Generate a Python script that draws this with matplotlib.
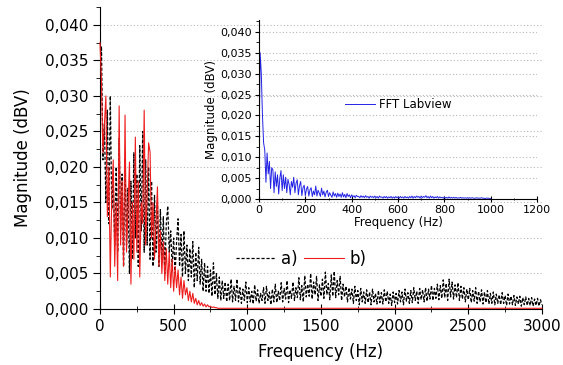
import numpy as np
import matplotlib
matplotlib.use('Agg')
import matplotlib.pyplot as plt
from matplotlib.ticker import FuncFormatter, MultipleLocator

# valeurs, en unites de 1e-4 V

# a) : pas de 10 Hz de 0 a 3000 Hz
mag_a = [330, 370, 210, 260, 150, 280, 120, 300, 140, 180, 90,
         200, 80, 240, 110, 190, 60, 210, 90, 170, 50,
         180, 70, 220, 100, 190, 60, 230, 110, 250, 80,
         210, 90, 200, 70, 180, 60, 160, 80, 150, 60,
         140, 70, 130, 50, 120, 145, 80, 110, 60, 100,
         50, 95, 127, 60, 105, 45, 110, 50, 90, 40,
         85, 45, 95, 30, 80, 40, 87, 35, 70, 25,
         65, 25, 60, 22, 55, 18, 65, 20, 50, 15,
         45, 12, 40, 15, 38, 10, 35, 12, 42, 10,
         32, 12, 42, 10, 30, 8, 28, 12, 38, 9,
         30, 10, 25, 7, 34, 11, 27, 8, 22, 12,
         30, 8, 32, 12, 24, 6, 28, 10, 35, 9,
         25, 12, 37, 10, 29, 14, 40, 9, 27, 15,
         38, 12, 30, 16, 44, 13, 33, 10, 47, 17,
         35, 18, 50, 14, 38, 20, 46, 12, 34, 18,
         42, 15, 52, 20, 36, 13, 48, 18, 53, 16,
         40, 20, 46, 12, 35, 17, 32, 10, 30, 14,
         28, 8, 32, 12, 26, 6, 29, 10, 24, 8,
         27, 9, 24, 6, 28, 10, 22, 7, 26, 9,
         23, 7, 27, 10, 25, 8, 21, 5, 24, 9,
         22, 7, 26, 10, 24, 6, 28, 11, 23, 8,
         26, 9, 30, 12, 25, 8, 29, 13, 27, 10,
         30, 11, 28, 14, 33, 12, 29, 15, 35, 13,
         33, 15, 41, 16, 36, 12, 42, 17, 38, 14,
         34, 16, 37, 12, 32, 14, 30, 10, 28, 13,
         29, 9, 26, 11, 30, 8, 25, 10, 27, 7,
         24, 9, 26, 7, 22, 8, 24, 6, 21, 8,
         20, 6, 23, 8, 19, 5, 21, 7, 18, 6,
         19, 5, 17, 7, 18, 4, 16, 6, 17, 5,
         15, 5, 16, 4, 14, 5, 15, 4, 13, 6]

# b) : pas de 10 Hz de 0 a 800 Hz
mag_b = [375, 320, 220, 260, 300, 130, 200, 45, 160, 210,
         60, 150, 40, 286, 90, 180, 60, 273, 80, 140,
         207, 35, 150, 70, 242, 80, 180, 45, 150, 120,
         280, 90, 160, 234, 221, 100, 150, 70, 120, 172,
         60, 110, 50, 95, 40, 85, 35, 80, 30, 70,
         25, 60, 30, 55, 20, 45, 15, 40, 20, 30,
         12, 25, 10, 22, 8, 15, 6, 12, 5, 9,
         4, 7, 3, 6, 3, 4, 2, 3, 2, 2, 1]
# b) : suite de 900 a 3000 Hz, pas de 100 Hz
mag_b_tail = [1, 1, 1, 1, 1, 1, 1, 1, 1, 1, 1,
              1, 1, 1, 1, 1, 1, 1, 1, 1, 1, 1]

# FFT Labview : pas de 5 Hz de 0 a 1000 Hz
mag_lv = [100, 350, 300, 200, 134, 117, 40, 110, 60, 90,
          25, 75, 70, 15, 65, 30, 58, 12, 50, 68,
          20, 58, 25, 52, 15, 47, 35, 10, 42, 28,
          52, 15, 38, 46, 10, 32, 42, 8, 27, 33,
          8, 24, 30, 7, 22, 27, 6, 19, 10, 31,
          7, 21, 14, 6, 26, 10, 19, 5, 16, 21,
          6, 15, 9, 4, 17, 7, 13, 4, 14, 6,
          12, 4, 15, 5, 11, 3, 13, 6, 10, 3,
          10, 5, 8, 3, 9, 6, 6, 3, 8, 4,
          7, 3, 8, 4, 6, 2, 7, 4, 6, 3,
          7, 3, 6, 2, 7, 4, 5, 2, 6, 3,
          6, 2, 5, 3, 6, 2, 5, 2, 6, 3,
          5, 2, 6, 3, 5, 2, 6, 3, 5, 2,
          6, 3, 7, 2, 6, 3, 7, 4, 6, 2,
          7, 3, 6, 4, 8, 3, 6, 2, 7, 3,
          6, 2, 5, 3, 6, 2, 5, 3, 4, 2,
          5, 2, 4, 2, 5, 2, 4, 2, 4, 2,
          4, 2, 3, 2, 4, 2, 3, 2, 3, 2,
          3, 2, 3, 2, 3, 2, 2, 2, 3, 2,
          2, 2, 3, 2, 2, 1, 2, 2, 2, 1, 1]

freq_a = np.linspace(0, 3000, len(mag_a))
freq_b = np.concatenate([np.linspace(0, 800, len(mag_b)),
                         np.linspace(900, 3000, len(mag_b_tail))])
freq_lv = np.linspace(0, 1000, len(mag_lv))

val_a = np.array(mag_a) * 1e-4
val_b = np.array(mag_b + mag_b_tail) * 1e-4
val_lv = np.array(mag_lv) * 1e-4

virgule = FuncFormatter(lambda v, p: f'{v:.3f}'.replace('.', ','))
grille = dict(color='#b8b8b8', linestyle=(0, (1, 2)), linewidth=0.8)

fig = plt.figure(figsize=(5.63, 3.65), dpi=100)

# graphe principal
ax = fig.add_axes([0.1776, 0.1534, 0.785, 0.827])
ax.plot(freq_a, val_a, color='black', linestyle='--', linewidth=0.9,
        dashes=(2.5, 1.5), label='a)')
ax.plot(freq_b, val_b, color='#ee1c1c', linewidth=0.8, label='b)',
        zorder=3, clip_on=False)
ax.set_xlim(0, 3000)
ax.set_ylim(0, 0.0425)
ax.xaxis.set_major_locator(MultipleLocator(500))
ax.xaxis.set_minor_locator(MultipleLocator(250))
ax.yaxis.set_major_locator(MultipleLocator(0.005))
ax.yaxis.set_minor_locator(MultipleLocator(0.0025))
ax.yaxis.set_major_formatter(virgule)
ax.spines['top'].set_visible(False)
ax.spines['right'].set_visible(False)
ax.tick_params(axis='y', which='major', direction='out', length=5, labelsize=11)
ax.tick_params(axis='y', which='minor', direction='out', length=3)
ax.tick_params(axis='x', which='major', direction='inout', length=7, labelsize=11)
ax.tick_params(axis='x', which='minor', direction='inout', length=4)
ax.yaxis.grid(True, **grille)
ax.set_axisbelow(True)
ax.set_xlabel('Frequency (Hz)', fontsize=12, labelpad=7)
ax.set_ylabel('Magnitude (dBV)', fontsize=12, labelpad=9)
ax.legend(loc='center', bbox_to_anchor=(0.455, 0.165), ncol=2, frameon=False,
          fontsize=12, handlelength=2.4, columnspacing=0.4, handletextpad=0.3)

# encart FFT Labview
axi = fig.add_axes([0.46, 0.4548, 0.494, 0.49])
axi.set_facecolor('none')
axi.plot(freq_lv, val_lv, color='#2323e6', linewidth=0.7, label='FFT Labview')
axi.set_xlim(0, 1200)
axi.set_ylim(0, 0.0428)
axi.xaxis.set_major_locator(MultipleLocator(200))
axi.xaxis.set_minor_locator(MultipleLocator(100))
axi.yaxis.set_major_locator(MultipleLocator(0.005))
axi.yaxis.set_minor_locator(MultipleLocator(0.0025))
axi.yaxis.set_major_formatter(virgule)
axi.spines['top'].set_visible(False)
axi.spines['right'].set_visible(False)
axi.tick_params(axis='y', which='major', direction='out', length=3, labelsize=8, pad=2)
axi.tick_params(axis='y', which='minor', direction='out', length=2)
axi.tick_params(axis='x', which='major', direction='inout', length=4, labelsize=8, pad=2)
axi.tick_params(axis='x', which='minor', direction='inout', length=2)
axi.yaxis.grid(True, **grille)
axi.set_axisbelow(True)
axi.set_xlabel('Frequency (Hz)', fontsize=8.5, labelpad=1)
axi.set_ylabel('Magnitude (dBV)', fontsize=8.5, labelpad=2)
axi.legend(loc='center', bbox_to_anchor=(0.50, 0.53), frameon=False,
           fontsize=8.5, handlelength=2.6, handletextpad=0.3)

plt.savefig('out.png', dpi=100)
